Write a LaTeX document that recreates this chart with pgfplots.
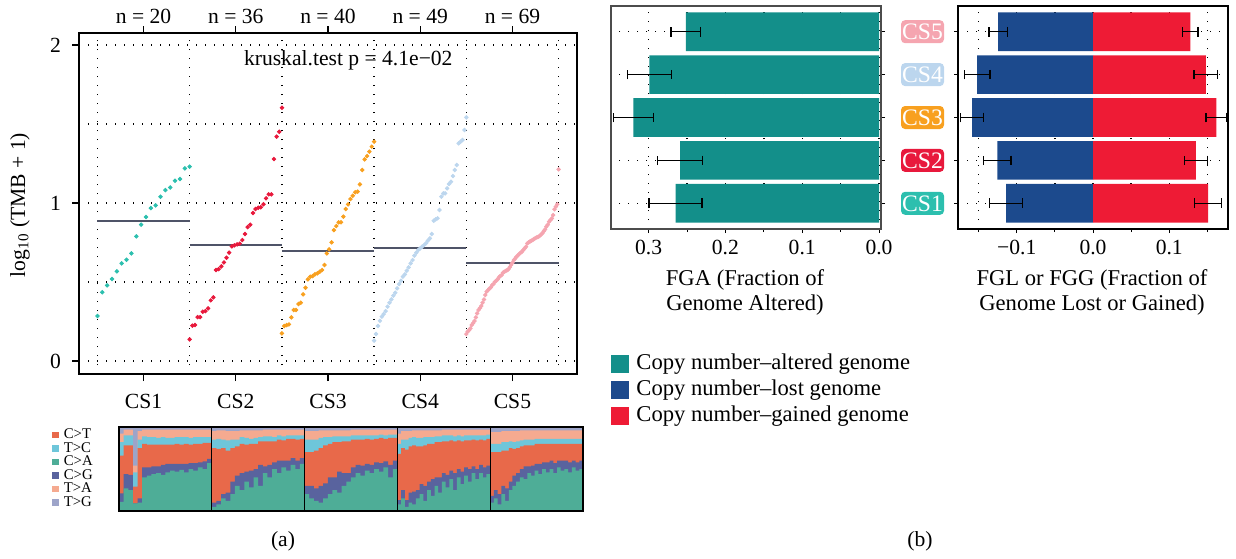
\documentclass[border=0pt]{standalone}
\usepackage{fontspec}
\setmainfont{Liberation Serif}
\usepackage{pgfplots}
\pgfplotsset{compat=1.18}
\usepackage{pgfplotstable}

\definecolor{csA}{HTML}{2CBFAE}
\definecolor{csB}{HTML}{E8193C}
\definecolor{csC}{HTML}{F8A01F}
\definecolor{csD}{HTML}{BCD6EE}
\definecolor{csE}{HTML}{F5A5B0}
\definecolor{medc}{HTML}{4F5468}
\definecolor{fga}{HTML}{138F8A}
\definecolor{lost}{HTML}{1C4A8D}
\definecolor{gain}{HTML}{EE1B35}
\definecolor{mCT}{HTML}{E8694A}
\definecolor{mTC}{HTML}{6EC6DA}
\definecolor{mCA}{HTML}{4EAD97}
\definecolor{mCG}{HTML}{59639E}
\definecolor{mTA}{HTML}{F5AA90}
\definecolor{mTG}{HTML}{9DA4C9}

% sorted log10(TMB+1) per cluster
\pgfplotstableread[row sep=\\]{v\\0.285\\0.435\\0.479\\0.519\\0.568\\0.618\\0.641\\0.681\\0.789\\0.863\\0.911\\0.968\\0.985\\1.040\\1.082\\1.099\\1.141\\1.152\\1.219\\1.230\\}\dA
\pgfplotstableread[row sep=\\]{v\\0.137\\0.224\\0.228\\0.278\\0.278\\0.312\\0.316\\0.333\\0.384\\0.403\\0.576\\0.582\\0.599\\0.624\\0.654\\0.686\\0.726\\0.732\\0.738\\0.743\\0.766\\0.804\\0.848\\0.863\\0.937\\0.962\\0.970\\0.973\\0.992\\1.030\\1.055\\1.055\\1.278\\1.420\\1.451\\1.603\\}\dB
\pgfplotstableread[row sep=\\]{v\\0.175\\0.222\\0.228\\0.232\\0.276\\0.323\\0.323\\0.361\\0.369\\0.422\\0.464\\0.517\\0.534\\0.538\\0.549\\0.555\\0.565\\0.576\\0.608\\0.681\\0.707\\0.751\\0.829\\0.854\\0.878\\0.878\\0.914\\0.962\\0.992\\1.025\\1.046\\1.068\\1.072\\1.118\\1.209\\1.276\\1.297\\1.325\\1.357\\1.388\\}\dC
\pgfplotstableread[row sep=\\]{v\\0.129\\0.171\\0.222\\0.255\\0.281\\0.297\\0.316\\0.344\\0.369\\0.390\\0.414\\0.432\\0.460\\0.487\\0.508\\0.534\\0.549\\0.572\\0.593\\0.618\\0.639\\0.667\\0.686\\0.703\\0.713\\0.724\\0.734\\0.745\\0.762\\0.776\\0.804\\0.888\\0.897\\0.903\\0.956\\1.040\\1.061\\1.061\\1.093\\1.120\\1.135\\1.171\\1.209\\1.241\\1.378\\1.388\\1.399\\1.462\\1.542\\}\dD
\pgfplotstableread[row sep=\\]{v\\0.171\\0.186\\0.195\\0.207\\0.228\\0.240\\0.253\\0.276\\0.302\\0.323\\0.335\\0.348\\0.369\\0.390\\0.418\\0.439\\0.449\\0.458\\0.466\\0.481\\0.487\\0.500\\0.508\\0.517\\0.530\\0.538\\0.544\\0.559\\0.565\\0.570\\0.575\\0.580\\0.593\\0.608\\0.622\\0.639\\0.648\\0.660\\0.669\\0.677\\0.686\\0.692\\0.703\\0.713\\0.724\\0.745\\0.751\\0.757\\0.762\\0.766\\0.774\\0.778\\0.783\\0.787\\0.791\\0.800\\0.808\\0.821\\0.833\\0.850\\0.863\\0.882\\0.892\\0.903\\0.924\\0.960\\0.977\\0.992\\1.213\\}\dE

% mutation spectrum, fractions per sample block (left edge x)
\pgfplotstableread[row sep=\\]{
x ca cg ct tc ta tg\\
0.00 0.11 0.10 0.45 0.16 0.10 0.08\\
0.05 0.27 0.17 0.34 0.12 0.07 0.03\\
0.10 0.25 0.18 0.35 0.12 0.07 0.03\\
0.15 0.09 0.00 0.20 0.17 0.08 0.46\\
0.20 0.10 0.05 0.60 0.10 0.10 0.05\\
0.25 0.40 0.12 0.28 0.09 0.08 0.03\\
0.30 0.42 0.10 0.27 0.09 0.09 0.03\\
0.35 0.44 0.09 0.26 0.09 0.09 0.03\\
0.40 0.45 0.08 0.26 0.08 0.10 0.03\\
0.45 0.43 0.12 0.24 0.09 0.09 0.03\\
0.50 0.46 0.10 0.23 0.08 0.10 0.03\\
0.55 0.48 0.08 0.23 0.08 0.10 0.03\\
0.60 0.47 0.09 0.24 0.08 0.09 0.03\\
0.65 0.49 0.07 0.23 0.09 0.09 0.03\\
0.70 0.46 0.10 0.24 0.08 0.09 0.03\\
0.75 0.50 0.07 0.22 0.08 0.10 0.03\\
0.80 0.48 0.09 0.23 0.08 0.09 0.03\\
0.85 0.52 0.06 0.22 0.08 0.09 0.03\\
0.90 0.50 0.09 0.22 0.07 0.09 0.03\\
0.95 0.57 0.05 0.19 0.07 0.09 0.03\\
1.00 0.05 0.05 0.65 0.10 0.10 0.05\\
1.05 0.08 0.04 0.62 0.12 0.10 0.04\\
1.10 0.15 0.05 0.55 0.10 0.11 0.04\\
1.15 0.12 0.10 0.50 0.12 0.11 0.05\\
1.20 0.20 0.15 0.40 0.10 0.10 0.05\\
1.25 0.30 0.12 0.35 0.08 0.10 0.05\\
1.30 0.25 0.20 0.35 0.08 0.08 0.04\\
1.35 0.35 0.12 0.32 0.08 0.09 0.04\\
1.40 0.28 0.20 0.32 0.06 0.10 0.04\\
1.45 0.40 0.10 0.30 0.07 0.09 0.04\\
1.50 0.30 0.25 0.28 0.05 0.08 0.04\\
1.55 0.45 0.08 0.30 0.06 0.08 0.03\\
1.60 0.40 0.15 0.28 0.06 0.08 0.03\\
1.65 0.50 0.08 0.25 0.05 0.09 0.03\\
1.70 0.45 0.15 0.25 0.05 0.07 0.03\\
1.75 0.52 0.08 0.24 0.05 0.08 0.03\\
1.80 0.48 0.12 0.26 0.04 0.07 0.03\\
1.85 0.55 0.08 0.23 0.04 0.07 0.03\\
1.90 0.50 0.10 0.25 0.05 0.07 0.03\\
1.95 0.56 0.07 0.23 0.04 0.07 0.03\\
2.00 0.20 0.10 0.40 0.15 0.10 0.05\\
2.05 0.15 0.15 0.40 0.15 0.10 0.05\\
2.10 0.12 0.15 0.45 0.13 0.10 0.05\\
2.15 0.10 0.20 0.45 0.12 0.09 0.04\\
2.20 0.15 0.18 0.45 0.10 0.08 0.04\\
2.25 0.20 0.20 0.40 0.08 0.08 0.04\\
2.30 0.25 0.15 0.42 0.07 0.07 0.04\\
2.35 0.22 0.25 0.35 0.07 0.07 0.04\\
2.40 0.30 0.15 0.38 0.06 0.07 0.04\\
2.45 0.35 0.10 0.38 0.06 0.07 0.04\\
2.50 0.40 0.12 0.33 0.05 0.07 0.03\\
2.55 0.45 0.10 0.30 0.05 0.07 0.03\\
2.60 0.42 0.12 0.31 0.05 0.07 0.03\\
2.65 0.48 0.08 0.30 0.04 0.07 0.03\\
2.70 0.45 0.10 0.30 0.05 0.07 0.03\\
2.75 0.50 0.08 0.28 0.04 0.07 0.03\\
2.80 0.47 0.10 0.30 0.04 0.06 0.03\\
2.85 0.52 0.07 0.27 0.04 0.07 0.03\\
2.90 0.40 0.15 0.32 0.04 0.06 0.03\\
2.95 0.50 0.10 0.27 0.04 0.06 0.03\\
3.00 0.08 0.05 0.55 0.12 0.12 0.08\\
3.04 0.15 0.10 0.50 0.10 0.10 0.05\\
3.08 0.05 0.08 0.60 0.12 0.10 0.05\\
3.12 0.10 0.12 0.55 0.10 0.08 0.05\\
3.16 0.08 0.15 0.55 0.10 0.08 0.04\\
3.20 0.15 0.10 0.52 0.10 0.09 0.04\\
3.24 0.20 0.12 0.45 0.10 0.09 0.04\\
3.28 0.12 0.18 0.48 0.10 0.08 0.04\\
3.32 0.25 0.10 0.45 0.08 0.08 0.04\\
3.36 0.18 0.20 0.42 0.08 0.08 0.04\\
3.40 0.30 0.10 0.42 0.07 0.07 0.04\\
3.44 0.22 0.18 0.42 0.07 0.07 0.04\\
3.48 0.35 0.10 0.38 0.07 0.07 0.03\\
3.52 0.28 0.15 0.40 0.07 0.07 0.03\\
3.56 0.38 0.10 0.36 0.06 0.07 0.03\\
3.60 0.25 0.20 0.38 0.06 0.08 0.03\\
3.64 0.40 0.10 0.34 0.06 0.07 0.03\\
3.68 0.32 0.15 0.36 0.06 0.08 0.03\\
3.72 0.42 0.10 0.32 0.06 0.07 0.03\\
3.76 0.35 0.15 0.34 0.06 0.07 0.03\\
3.80 0.45 0.08 0.32 0.05 0.07 0.03\\
3.84 0.38 0.12 0.34 0.06 0.07 0.03\\
3.88 0.45 0.10 0.30 0.05 0.07 0.03\\
3.92 0.40 0.12 0.32 0.06 0.07 0.03\\
3.96 0.44 0.10 0.32 0.05 0.06 0.03\\
4.00 0.10 0.08 0.52 0.10 0.14 0.06\\
4.04 0.15 0.10 0.45 0.10 0.14 0.06\\
4.08 0.08 0.12 0.50 0.10 0.14 0.06\\
4.12 0.20 0.10 0.42 0.10 0.13 0.05\\
4.16 0.12 0.15 0.45 0.10 0.13 0.05\\
4.20 0.25 0.10 0.40 0.08 0.12 0.05\\
4.24 0.30 0.12 0.32 0.08 0.13 0.05\\
4.28 0.35 0.10 0.30 0.08 0.12 0.05\\
4.32 0.40 0.10 0.27 0.07 0.12 0.04\\
4.36 0.38 0.15 0.25 0.07 0.11 0.04\\
4.40 0.45 0.08 0.25 0.07 0.11 0.04\\
4.44 0.42 0.12 0.24 0.07 0.11 0.04\\
4.48 0.48 0.08 0.24 0.06 0.10 0.04\\
4.52 0.44 0.12 0.24 0.06 0.10 0.04\\
4.56 0.50 0.08 0.22 0.06 0.10 0.04\\
4.60 0.46 0.12 0.22 0.06 0.10 0.04\\
4.64 0.50 0.10 0.20 0.06 0.10 0.04\\
4.68 0.45 0.12 0.23 0.06 0.10 0.04\\
4.72 0.52 0.08 0.20 0.06 0.10 0.04\\
4.76 0.48 0.12 0.20 0.06 0.10 0.04\\
4.80 0.50 0.10 0.20 0.06 0.10 0.04\\
4.84 0.46 0.12 0.22 0.06 0.10 0.04\\
4.88 0.52 0.08 0.20 0.06 0.10 0.04\\
4.92 0.48 0.10 0.22 0.06 0.10 0.04\\
4.96 0.50 0.10 0.20 0.06 0.10 0.04\\
5.00 0.50 0.10 0.20 0.06 0.10 0.04\\
}\spec

% FGA / FGL / FGG means and error half-widths, y = cluster
\pgfplotstableread[row sep=\\]{y v e\\1 0.265 0.0345\\2 0.259 0.0295\\3 0.320 0.026\\4 0.299 0.029\\5 0.2515 0.0195\\}\tFGA
\pgfplotstableread[row sep=\\]{y v e\\1 -0.114 0.022\\2 -0.1255 0.018\\3 -0.1585 0.015\\4 -0.152 0.017\\5 -0.1245 0.012\\}\tFGL
\pgfplotstableread[row sep=\\]{y v e\\1 0.151 0.0175\\2 0.135 0.015\\3 0.1617 0.0135\\4 0.148 0.0155\\5 0.1277 0.010\\}\tFGG

\pgfplotsset{
  rdot/.style={black, line width=0.7pt, dash pattern=on 0.7pt off 3.8pt},
}

\begin{document}
\begin{tikzpicture}[font=\fontsize{10.8}{12}\selectfont]
\useasboundingbox (0,0) rectangle (618pt,-279pt);

% ---------- (a) TMB dot plot
\begin{axis}[
  at={(39.5pt,-187pt)}, anchor=south west, scale only axis,
  width=249pt, height=170.5pt,
  xmin=0.3, xmax=5.7, ymin=-0.082, ymax=2.076,
  xtick={1,...,5}, xticklabels={CS1,CS2,CS3,CS4,CS5},
  ytick={0,1,2}, yticklabels={0,1,2},
  xtick pos=both, xticklabel pos=lower, ytick pos=left,
  tick align=outside, major tick length=3.5pt,
  minor xtick={0.5,1.5,...,5.5}, minor ytick={0,0.5,...,2},
  minor tick length=0pt,
  xminorgrids, yminorgrids, minor grid style={rdot},
  axis line style={line width=0.8pt},
  tick style={black, line width=0.6pt},
  xticklabel style={yshift=-3pt}, yticklabel style={xshift=-2pt},
  clip=false,
]
\addplot[only marks, mark=*, mark size=0.9pt, color=csA] table[x expr=0.5+\coordindex/19, y=v] {\dA};
\addplot[only marks, mark=*, mark size=0.9pt, color=csB] table[x expr=1.5+\coordindex/35, y=v] {\dB};
\addplot[only marks, mark=*, mark size=0.9pt, color=csC] table[x expr=2.5+\coordindex/39, y=v] {\dC};
\addplot[only marks, mark=*, mark size=0.9pt, color=csD] table[x expr=3.5+\coordindex/48, y=v] {\dD};
\addplot[only marks, mark=*, mark size=0.9pt, color=csE] table[x expr=4.5+\coordindex/68, y=v] {\dE};
\addplot[medc, line width=1pt] coordinates {(0.5,0.887) (1.5,0.887)};
\addplot[medc, line width=1pt] coordinates {(1.5,0.735) (2.5,0.735)};
\addplot[medc, line width=1pt] coordinates {(2.5,0.694) (3.5,0.694)};
\addplot[medc, line width=1pt] coordinates {(3.5,0.713) (4.5,0.713)};
\addplot[medc, line width=1pt] coordinates {(4.5,0.622) (5.5,0.622)};
\node at (axis cs:3.22,1.905) {kruskal.test p = 4.1e−02};
\node at (axis cs:1,2.076) [yshift=8.5pt] {n = 20};
\node at (axis cs:2,2.076) [yshift=8.5pt] {n = 36};
\node at (axis cs:3,2.076) [yshift=8.5pt] {n = 40};
\node at (axis cs:4,2.076) [yshift=8.5pt] {n = 49};
\node at (axis cs:5,2.076) [yshift=8.5pt] {n = 69};
\end{axis}
\node[rotate=90] at (10pt,-102.5pt) {log\textsubscript{10} (TMB + 1)};

% ---------- (a) mutation spectrum
\begin{axis}[
  at={(59.5pt,-255.5pt)}, anchor=south west, scale only axis,
  width=232pt, height=42pt,
  xmin=0, xmax=5, ymin=0, ymax=1,
  xtick={1,2,3,4}, xticklabels={}, ytick=\empty, major tick length=0pt,
  xmajorgrids, major grid style={black, line width=0.6pt},
  axis on top, axis line style={line width=0.6pt},
  legend image code/.code={\fill[#1, draw=none] (0pt,-1.6pt) rectangle (3.2pt,1.6pt);},
  legend style={at={(-0.1444,0.99)}, anchor=north west, draw=none, fill=none,
    font=\fontsize{7.4}{8}\selectfont, inner sep=0pt, row sep=-0.15pt,
    nodes={inner ysep=0.2pt, inner xsep=2.5pt, text height=5pt, text depth=1.5pt}},
  legend cell align=left,
]
\addlegendimage{fill=mCT}\addlegendentry{C>T}
\addlegendimage{fill=mTC}\addlegendentry{T>C}
\addlegendimage{fill=mCA}\addlegendentry{C>A}
\addlegendimage{fill=mCG}\addlegendentry{C>G}
\addlegendimage{fill=mTA}\addlegendentry{T>A}
\addlegendimage{fill=mTG}\addlegendentry{T>G}
\addplot[const plot mark left, fill=mTG, draw=none, forget plot] table[x=x, y expr=\thisrow{ca}+\thisrow{cg}+\thisrow{ct}+\thisrow{tc}+\thisrow{ta}+\thisrow{tg}] {\spec} \closedcycle;
\addplot[const plot mark left, fill=mTA, draw=none, forget plot] table[x=x, y expr=\thisrow{ca}+\thisrow{cg}+\thisrow{ct}+\thisrow{tc}+\thisrow{ta}] {\spec} \closedcycle;
\addplot[const plot mark left, fill=mTC, draw=none, forget plot] table[x=x, y expr=\thisrow{ca}+\thisrow{cg}+\thisrow{ct}+\thisrow{tc}] {\spec} \closedcycle;
\addplot[const plot mark left, fill=mCT, draw=none, forget plot] table[x=x, y expr=\thisrow{ca}+\thisrow{cg}+\thisrow{ct}] {\spec} \closedcycle;
\addplot[const plot mark left, fill=mCG, draw=none, forget plot] table[x=x, y expr=\thisrow{ca}+\thisrow{cg}] {\spec} \closedcycle;
\addplot[const plot mark left, fill=mCA, draw=none, forget plot] table[x=x, y=ca] {\spec} \closedcycle;
\end{axis}

% ---------- (b) FGA
\begin{axis}[
  at={(305.5pt,-114.5pt)}, anchor=south west, scale only axis,
  width=135pt, height=111.5pt,
  x dir=reverse, xmin=-0.0026, xmax=0.349, ymin=0.4, ymax=5.6,
  xtick={0,0.1,0.2,0.3}, xticklabels={0.0,0.1,0.2,0.3},
  minor xtick={0.05,0.15,0.25,0.35},
  ytick={1,...,5}, yticklabels={},
  xtick pos=lower, ytick pos=right, tick align=outside,
  major tick length=2pt, minor tick length=1.5pt,
  grid=both, major grid style={rdot}, minor grid style={rdot},
  axis line style={black!70, line width=0.7pt},
  tick style={black, line width=0.5pt},
  xbar, bar width=0.9, bar shift=0pt,
]
\addplot[fill=fga, draw=none, error bars/.cd, x dir=both, x explicit,
  error bar style={black, line width=0.6pt},
  error mark options={black, line width=0.6pt, mark size=2.4pt, rotate=90}]
  table[x=v, y=y, x error=e] {\tFGA};
\end{axis}

% ---------- (b) FGL / FGG
\begin{axis}[
  at={(479pt,-114.5pt)}, anchor=south west, scale only axis,
  width=135pt, height=111.5pt,
  xmin=-0.177, xmax=0.177, ymin=0.4, ymax=5.6,
  xtick={-0.1,0,0.1}, xticklabels={−0.1,0.0,0.1},
  minor xtick={-0.15,-0.05,0.05,0.15},
  ytick={1,...,5}, yticklabels={},
  xtick pos=lower, ytick pos=left, tick align=outside,
  major tick length=2pt, minor tick length=1.5pt,
  grid=both, major grid style={rdot}, minor grid style={rdot},
  axis line style={black, line width=1pt},
  tick style={black, line width=0.5pt},
  xbar, bar width=0.9, bar shift=0pt,
  legend image code/.code={\fill[#1, draw=none] (0pt,-4.5pt) rectangle (9pt,4.5pt);},
  legend style={at={(-1.285,-0.552)}, anchor=north west, draw=none, fill=none,
    font=\fontsize{11.3}{12}\selectfont, inner sep=0pt, row sep=1.4pt,
    nodes={inner ysep=0.5pt, inner xsep=3.5pt, text height=8pt, text depth=2.6pt}},
  legend cell align=left,
]
\addlegendimage{fill=fga}\addlegendentry{Copy number–altered genome}
\addlegendimage{fill=lost}\addlegendentry{Copy number–lost genome}
\addlegendimage{fill=gain}\addlegendentry{Copy number–gained genome}
\addplot[fill=lost, draw=none, forget plot, error bars/.cd, x dir=both, x explicit,
  error bar style={black, line width=0.6pt},
  error mark options={black, line width=0.6pt, mark size=2.4pt, rotate=90}]
  table[x=v, y=y, x error=e] {\tFGL};
\addplot[fill=gain, draw=none, forget plot, error bars/.cd, x dir=both, x explicit,
  error bar style={black, line width=0.6pt},
  error mark options={black, line width=0.6pt, mark size=2.4pt, rotate=90}]
  table[x=v, y=y, x error=e] {\tFGG};
\end{axis}

% cluster badges between the two bar panels
\tikzset{badge/.style={rounded corners=2pt, text=white, minimum width=21.5pt, minimum height=11.5pt, inner sep=0pt, font=\fontsize{11.8}{12}\selectfont}}
\node[badge, fill=csA] at (461.25pt,-101.65pt) {CS1};
\node[badge, fill=csB] at (461.25pt,-80.2pt) {CS2};
\node[badge, fill=csC] at (461.25pt,-58.75pt) {CS3};
\node[badge, fill=csD] at (461.25pt,-37.3pt) {CS4};
\node[badge, fill=csE] at (461.25pt,-15.85pt) {CS5};

\node[align=center, font=\fontsize{11.3}{12.5}\selectfont] at (372.5pt,-146pt) {FGA (Fraction of\\Genome Altered)};
\node[align=center, font=\fontsize{11.3}{12.5}\selectfont] at (546pt,-146pt) {FGL or FGG (Fraction of\\Genome Lost or Gained)};

\node at (141.5pt,-270.5pt) {(a)};
\node at (460pt,-270.5pt) {(b)};
\end{tikzpicture}
\end{document}
